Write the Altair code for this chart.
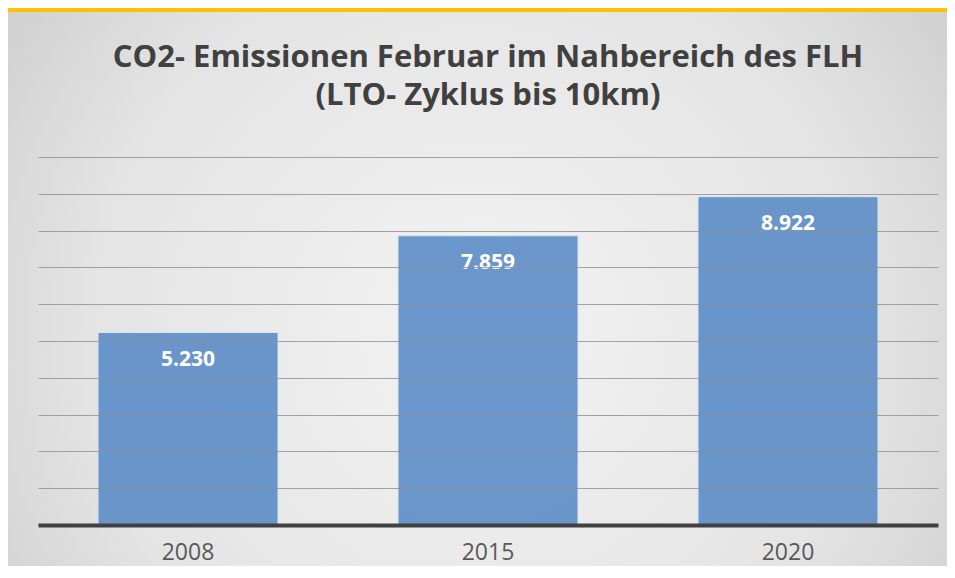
import altair as alt
import pandas as pd

years = ["2008", "2015", "2020"]
values = [5230, 7859, 8922]
title_lines = ["CO2- Emissionen Februar im Nahbereich des FLH", "(LTO- Zyklus bis 10km)"]

df = pd.DataFrame({"year": years, "value": values})

W, H = 900, 368
PL, PT, PR, PB = 30, 149, 9, 41

base = alt.Chart(df)

bg = alt.Chart(alt.Data(values=[{"a": 1}])).mark_rect(
    fill=alt.Gradient(
        gradient="radial",
        stops=[alt.GradientStop(color="#f3f3f3", offset=0),
               alt.GradientStop(color="#e4e4e4", offset=0.55),
               alt.GradientStop(color="#c2c2c2", offset=1)],
        x1=0.5, y1=0.55, r1=0, x2=0.5, y2=0.55, r2=0.75,
    ),
    strokeWidth=0,
).encode(
    x=alt.value(-PL), x2=alt.value(W + PR),
    y=alt.value(-PT), y2=alt.value(H + PB),
)

strip = alt.Chart(alt.Data(values=[{"a": 1}])).mark_rect(
    color="#FFC000", strokeWidth=0
).encode(
    x=alt.value(-PL), x2=alt.value(W + PR),
    y=alt.value(-PT), y2=alt.value(-PT + 4),
)

x_enc = alt.X("year:N", sort=years, title=None,
              scale=alt.Scale(paddingInner=0.4, paddingOuter=0.2),
              axis=alt.Axis(labelAngle=0, labelFont="Open Sans", labelFontSize=23,
                            labelColor="#595959", labelPadding=16, ticks=False,
                            domainColor="#404040", domainWidth=4, zindex=2))
y_enc = alt.Y("value:Q", title=None,
              scale=alt.Scale(domain=[0, 10000], nice=False),
              axis=alt.Axis(labels=False, ticks=False, domain=False,
                            values=list(range(1000, 10001, 1000)),
                            grid=True, gridColor="#8f8f8f", gridWidth=1,
                            gridOpacity=0.8, zindex=1))

bars = base.mark_bar(color="#5f8fc8", opacity=0.92, stroke="#dbe5f1",
                     strokeWidth=1).encode(x=x_enc, y=y_enc)

labels = base.transform_calculate(
    label="replace(format(datum.value, ',.0f'), ',', '.')"
).mark_text(font="Open Sans", fontSize=21, fontWeight="bold", color="white",
            baseline="middle", dy=27).encode(
    x=alt.X("year:N", sort=years), y=alt.Y("value:Q"), text="label:N")

chart = alt.layer(bg, strip, bars, labels).properties(
    width=W, height=H,
    padding={"left": PL, "top": PT, "right": PR, "bottom": PB},
    autosize=alt.AutoSizeParams(type="none"),
    title=alt.TitleParams(title_lines, font="Open Sans", fontSize=31,
                          fontWeight="bold", color="#404040", anchor="middle",
                          baseline="alphabetic", lineHeight=38, offset=-128),
    background="#dadada",
).configure_view(stroke=None)

chart.save("out.html", embed_options={"renderer": "svg", "actions": False})
